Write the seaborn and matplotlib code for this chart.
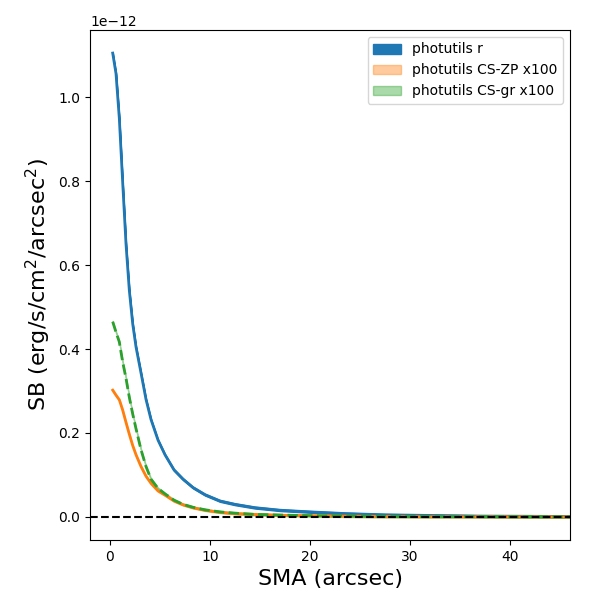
import matplotlib
matplotlib.use('Agg')
import matplotlib.pyplot as plt
import seaborn as sns
import numpy as np

# SMA grid (arcsec)
sma = [0.27, 0.6, 0.93, 1.26, 1.6, 1.93, 2.27, 2.6, 3.1, 3.6, 4.1, 4.8, 5.5, 6.4,
       7.3, 8.3, 9.5, 11.0, 12.5, 14.5, 17.0, 20.0, 23.5, 27.5, 32.0, 37.0, 42.0, 46.0]

# surface brightness in units of 1e-12 erg/s/cm2/arcsec2
sb_r = [1.105, 1.056, 0.95, 0.80, 0.65, 0.54, 0.46, 0.405, 0.343, 0.28, 0.232, 0.183,
        0.148, 0.112, 0.09, 0.07, 0.053, 0.038, 0.030, 0.022, 0.016, 0.012, 0.008,
        0.005, 0.0035, 0.002, 0.0015, 0.001]
sb_zp = [0.302, 0.29, 0.279, 0.255, 0.225, 0.197, 0.17, 0.148, 0.12, 0.097, 0.08, 0.062,
         0.052, 0.038, 0.029, 0.022, 0.016, 0.011, 0.008, 0.006, 0.004, 0.003, 0.002,
         0.001, 0.0005, 0.0005, 0.0003, 0.0002]
sb_gr = [0.465, 0.44, 0.417, 0.37, 0.33, 0.285, 0.245, 0.21, 0.16, 0.12, 0.09, 0.068,
         0.055, 0.04, 0.03, 0.023, 0.017, 0.012, 0.009, 0.006, 0.0045, 0.003, 0.002,
         0.001, 0.0006, 0.0005, 0.0003, 0.0002]

labels = ["photutils r", "photutils CS-ZP x100", "photutils CS-gr x100"]

x = np.array(sma)
r = np.array(sb_r) * 1e-12
zp = np.array(sb_zp) * 1e-12
gr = np.array(sb_gr) * 1e-12
err = 0.002e-12

fig, ax = plt.subplots(figsize=(6, 6))
fig.subplots_adjust(left=0.15, right=0.95, bottom=0.1, top=0.95)

ax.fill_between(x, r - err, r + err, color='C0', alpha=1.0, label=labels[0])
sns.lineplot(x=x, y=r, ax=ax, color='C0', lw=2, legend=False)

ax.fill_between(x, zp - err, zp + err, color='C1', alpha=0.4, label=labels[1])
sns.lineplot(x=x, y=zp, ax=ax, color='C1', lw=2, legend=False)

ax.fill_between(x, gr - err, gr + err, color='C2', alpha=0.4, label=labels[2])
sns.lineplot(x=x, y=gr, ax=ax, color='C2', lw=2, linestyle='--', legend=False)

ax.axhline(0, color='k', linestyle='--')
ax.set_xlim(-2, 46)
ax.set_ylim(-0.055e-12, 1.16e-12)
ax.set_xlabel("SMA (arcsec)", fontsize=16)
ax.set_ylabel("SB (erg/s/cm$^2$/arcsec$^2$)", fontsize=16)
ax.legend(loc='upper right')

plt.savefig("out.png", dpi=100)
plt.close()
